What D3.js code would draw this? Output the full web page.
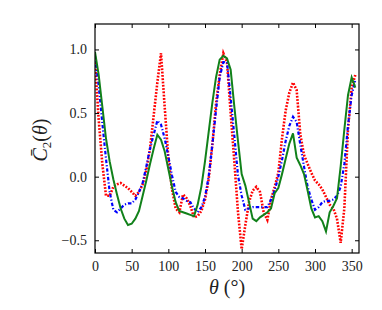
<!DOCTYPE html>
<html>
<head>
<meta charset="utf-8">
<script src="https://cdn.jsdelivr.net/npm/d3@7"></script>
<style>
  body { margin: 0; background: #fff; }
  text { font-family: "Liberation Serif", "DejaVu Serif", serif; }
</style>
</head>
<body>
<svg id="chart" width="382" height="310"></svg>
<script>
// angle grid (degrees)
const theta = [0,5,10,15,20,25,30,35,40,45,50,55,60,65,70,75,80,85,90,95,100,105,110,115,120,125,130,135,140,145,150,155,160,165,170,175,180,185,190,195,200,205,210,215,220,225,230,235,240,245,250,255,260,265,270,275,280,285,290,295,300,305,310,315,320,325,330,335,340,345,350,355];

// red dotted series
const redVals = [0.90,0.45,0.10,-0.15,-0.15,-0.08,-0.06,-0.05,-0.07,-0.09,-0.12,-0.15,-0.12,-0.06,0.05,0.22,0.48,0.74,0.97,0.55,0.15,-0.10,-0.25,-0.28,-0.14,-0.17,-0.23,-0.32,-0.31,-0.27,-0.18,-0.02,0.25,0.57,0.80,0.97,0.90,0.50,0.12,-0.28,-0.57,-0.38,-0.20,-0.11,-0.08,-0.12,-0.28,-0.34,-0.18,-0.08,0.03,0.30,0.52,0.66,0.74,0.68,0.33,0.17,0.10,0.03,-0.03,-0.06,-0.10,-0.16,-0.22,-0.25,-0.33,-0.52,-0.25,0.37,0.70,0.80];

// blue dash-dot series
const blueVals = [0.95,0.72,0.42,0.14,-0.12,-0.26,-0.28,-0.25,-0.22,-0.21,-0.21,-0.18,-0.12,-0.05,0.08,0.22,0.33,0.44,0.41,0.30,0.16,0.01,-0.12,-0.16,-0.17,-0.19,-0.20,-0.25,-0.28,-0.24,-0.16,0.00,0.25,0.52,0.78,0.90,0.90,0.62,0.32,0.01,-0.15,-0.26,-0.25,-0.24,-0.24,-0.24,-0.24,-0.24,-0.18,-0.11,0.00,0.13,0.28,0.40,0.47,0.43,0.25,0.08,-0.08,-0.18,-0.26,-0.24,-0.20,-0.19,-0.19,-0.18,-0.15,-0.08,0.10,0.40,0.64,0.76];

// green solid series
const greenVals = [0.98,0.80,0.55,0.30,0.12,-0.02,-0.14,-0.25,-0.33,-0.38,-0.37,-0.33,-0.27,-0.15,-0.03,0.10,0.22,0.33,0.29,0.20,0.06,-0.08,-0.20,-0.27,-0.28,-0.29,-0.30,-0.31,-0.22,-0.08,0.12,0.35,0.58,0.78,0.92,0.95,0.93,0.84,0.55,0.28,0.02,-0.07,-0.20,-0.33,-0.35,-0.32,-0.30,-0.28,-0.25,-0.13,-0.09,0.02,0.14,0.26,0.34,0.15,0.09,0.02,-0.11,-0.25,-0.32,-0.31,-0.35,-0.43,-0.28,-0.23,-0.17,0.08,0.37,0.64,0.78,0.70];

const xTicks = [0,50,100,150,200,250,300,350];
const yTicks = [-0.5,0.0,0.5,1.0];

const margin = {left: 95, right: 23, top: 24, bottom: 57};
const W = 382, H = 310;
const svg = d3.select('#chart');

const x = d3.scaleLinear().domain([0,360]).range([margin.left, W - margin.right]);
const y = d3.scaleLinear().domain([-0.6,1.2]).range([H - margin.bottom, margin.top]);

svg.append('clipPath').attr('id','clip')
  .append('rect')
  .attr('x', x(0)).attr('y', y(1.2))
  .attr('width', x(360)-x(0)).attr('height', y(-0.6)-y(1.2));

const line = d3.line().x(function(d){ return x(d[0]); }).y(function(d){ return y(d[1]); });

const series = [
  {vals: redVals, color: '#ff0000', width: 2.6, dash: '1.8,1.5'},
  {vals: blueVals, color: '#0000ff', width: 2.2, dash: '3.5,2,1.2,2'},
  {vals: greenVals, color: '#11811a', width: 2, dash: null}
];

const g = svg.append('g').attr('clip-path','url(#clip)');
series.forEach(function(s){
  g.append('path')
    .datum(theta.map(function(t,i){ return [t, s.vals[i]]; }))
    .attr('d', line)
    .attr('fill','none')
    .attr('stroke', s.color)
    .attr('stroke-width', s.width)
    .attr('stroke-dasharray', s.dash);
});

// axes with inward ticks on all sides
const fmt = function(d){ return d3.format('.1f')(d).replace('-', '\u2212'); };
const axBottom = svg.append('g').attr('transform','translate(0,' + y(-0.6) + ')')
  .call(d3.axisBottom(x).tickValues(xTicks).tickSizeInner(-4).tickSizeOuter(0).tickPadding(8));
const axTop = svg.append('g').attr('transform','translate(0,' + y(1.2) + ')')
  .call(d3.axisTop(x).tickValues(xTicks).tickSizeInner(-4).tickSizeOuter(0).tickFormat(''));
const axLeft = svg.append('g').attr('transform','translate(' + x(0) + ',0)')
  .call(d3.axisLeft(y).tickValues(yTicks).tickSizeInner(-4).tickSizeOuter(0).tickPadding(8).tickFormat(fmt));
const axRight = svg.append('g').attr('transform','translate(' + x(360) + ',0)')
  .call(d3.axisRight(y).tickValues(yTicks).tickSizeInner(-4).tickSizeOuter(0).tickFormat(''));

[axBottom, axTop, axLeft, axRight].forEach(function(a){
  a.select('.domain').remove();
  a.selectAll('line').attr('stroke','#000').attr('stroke-width',1);
  a.selectAll('text').attr('font-family','"Liberation Serif", serif').attr('font-size',14).attr('fill','#222');
});

svg.append('rect')
  .attr('x', x(0)).attr('y', y(1.2))
  .attr('width', x(360)-x(0)).attr('height', y(-0.6)-y(1.2))
  .attr('fill','none').attr('stroke','#000').attr('stroke-width',1.2);

// axis labels
const xl = svg.append('text')
  .attr('x', (x(0)+x(360))/2).attr('y', 294)
  .attr('text-anchor','middle').attr('font-size',20).attr('fill','#222');
xl.append('tspan').attr('font-style','italic').text('\u03b8');
xl.append('tspan').text(' (\u00b0)');

const yl = svg.append('text')
  .attr('transform','translate(47,140) rotate(-90)')
  .attr('text-anchor','middle').attr('font-size',20).attr('fill','#222');
yl.append('tspan').attr('font-style','italic').text('C\u0304');
yl.append('tspan').attr('font-size',13).attr('dy',4).text('2');
yl.append('tspan').attr('dy',-4).text('(');
yl.append('tspan').attr('font-style','italic').text('\u03b8');
yl.append('tspan').text(')');
</script>
</body>
</html>
